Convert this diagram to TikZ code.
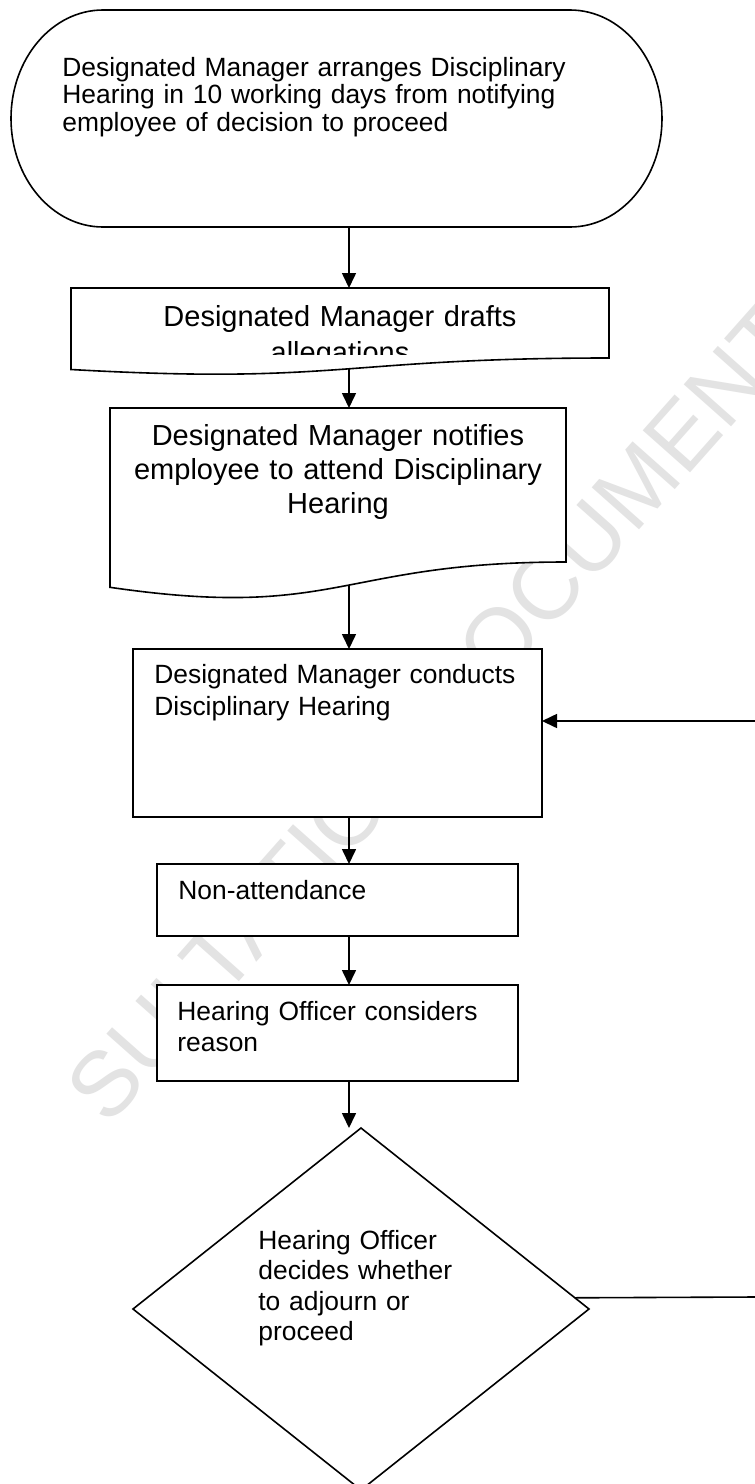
\documentclass[tikz,border=0pt]{standalone}
\usepackage{fontspec}
\setmainfont{Liberation Sans}
\usetikzlibrary{arrows.meta,positioning,shapes.geometric,fit}
\tikzset{flowline/.style={line width=0.8pt}}
\tikzset{flowarrow/.style={flowline, -{Triangle[length=7.5pt,width=7pt]}}}
\tikzset{procbox/.style={draw, fill=white, flowline, inner sep=0pt, outer sep=0pt}}
\tikzset{boxtext/.style={anchor=base west, inner sep=0pt, align=left, text width=220pt, font=\fontsize{13.2}{15.5}\selectfont}}
\tikzset{doctext/.style={anchor=base, inner sep=0pt, align=center, text width=250pt, font=\fontsize{14.5}{17}\selectfont}}
\begin{document}
\begin{tikzpicture}[x=0.5pt,y=-0.5pt]
\clip (0,0) rectangle (755,1484);
\fill[white] (0,0) rectangle (755,1484);
\node[rotate=48.4, anchor=west, text=gray!22, font=\fontsize{46}{46}\selectfont, inner sep=0pt] (stamp) at (85,1107) {SULTATION DOCUMENT};
\coordinate (col) at (349,0);

% start
\filldraw[flowline, fill=white] (103,10) -- (570,10) .. controls (620.8,10) and (662,58.6) .. (662,118.5)
  .. controls (662,178.4) and (620.8,227) .. (570,227) -- (103,227)
  .. controls (52.2,227) and (11,178.4) .. (11,118.5) .. controls (11,58.6) and (52.2,10) .. cycle;
\coordinate (arrangeend) at (349,227);
\node[boxtext, text width=300pt, font=\fontsize{13.2}{13.8}\selectfont] (arrange) at (62,76) {Designated Manager arranges Disciplinary\\Hearing in 10 working days from notifying\\employee of decision to proceed};

% documents
\filldraw[flowline, fill=white] (71,288) -- (609,288) -- (609,358) .. controls (340,358) and (340,384.7) .. (71,369.5) coordinate[pos=0.477] (draftwave) -- cycle;
\coordinate (drafttop) at (349,288);
\begin{scope}
\clip (71,288) rectangle (609,354);
\node[doctext, font=\fontsize{14.5}{18}\selectfont] (draft) at (340,326) {Designated Manager drafts\\allegations};
\end{scope}
\filldraw[flowline, fill=white] (110,408) -- (566,408) -- (566,562) .. controls (338,562) and (338,620.6) .. (110,587.3) coordinate[pos=0.47] (notifywave) -- cycle;
\coordinate (notifytop) at (349,408);
\node[doctext] (notify) at (338,445) {Designated Manager notifies\\employee to attend Disciplinary\\Hearing};

% boxes
\node[procbox, fit={(133,649) (542,817)}] (conduct) {};
\node[boxtext, font=\fontsize{13.2}{16}\selectfont] (conducttext) at (154,683) {Designated Manager conducts\\Disciplinary Hearing};
\node[procbox, fit={(157,864) (518,936)}] (absent) {};
\node[boxtext] (absenttext) at (178,899) {Non-attendance};
\node[procbox, fit={(157,985) (518,1081)}] (consider) {};
\node[boxtext] (considertext) at (177,1020) {Hearing Officer considers\\reason};
\node[procbox, diamond, minimum width=228pt, minimum height=181pt] (decide) at (361,1309) {};
\node[boxtext, font=\fontsize{13.2}{15.25}\selectfont] (decidetext) at (258,1249) {Hearing Officer\\decides whether\\to adjourn or\\proceed};

% connectors
\draw[flowarrow] (arrangeend) -- (drafttop);
\draw[flowarrow] (col |- draftwave) -- (notifytop);
\draw[flowarrow] (col |- notifywave) -- (col |- conduct.north);
\draw[flowarrow] (col |- conduct.south) -- (col |- absent.north);
\draw[flowarrow] (col |- absent.south) -- (col |- consider.north);
\draw[flowarrow] (col |- consider.south) -- (col |- decide.north);
\coordinate (backin) at (755,721);
\draw[flowarrow] (backin) -- (backin -| conduct.east);
\coordinate (adjourn) at (755,1297);
\draw[flowline] (decide.3.2) -- (adjourn);
\end{tikzpicture}
\end{document}
